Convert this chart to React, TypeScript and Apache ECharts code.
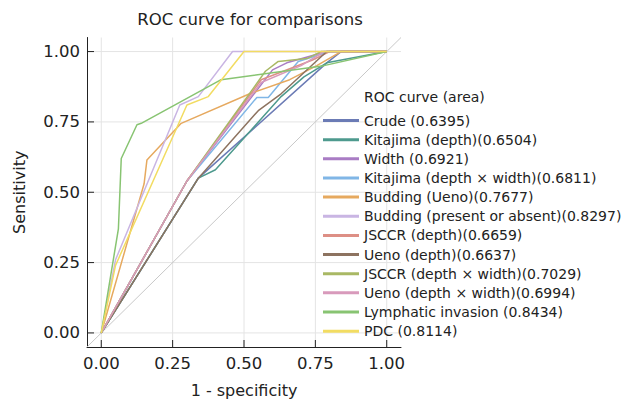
import React, { useEffect, useRef } from "react";
import * as echarts from "echarts";

const FONT = "'DejaVu Sans', Verdana, sans-serif";
const TEXT = "#222222";

const tickValues = [0, 0.25, 0.5, 0.75, 1];

const seriesNames = [
  "Crude (0.6395)",
  "Kitajima (depth)(0.6504)",
  "Width (0.6921)",
  "Kitajima (depth × width)(0.6811)",
  "Budding (Ueno)(0.7677)",
  "Budding (present or absent)(0.8297)",
  "JSCCR (depth)(0.6659)",
  "Ueno (depth)(0.6637)",
  "JSCCR (depth × width)(0.7029)",
  "Ueno (depth × width)(0.6994)",
  "Lymphatic invasion (0.8434)",
  "PDC (0.8114)",
];

const colors = [
  "#6b7bb5",
  "#4e9a8e",
  "#a97cc4",
  "#80b6e6",
  "#e6a95f",
  "#c9b5e3",
  "#dd8f85",
  "#8d7360",
  "#a9b864",
  "#d89abb",
  "#88c472",
  "#f2dc62",
];

// 1 - specificity (x) and sensitivity (y) for each curve
const crudeX = [0, 0.34, 0.79, 0.84, 1];
const crudeY = [0, 0.55, 0.96, 1, 1];
const kitajimaX = [0, 0.34, 0.4, 0.63, 0.71, 0.79, 1];
const kitajimaY = [0, 0.55, 0.58, 0.84, 0.91, 0.96, 1];
const widthX = [0, 0.3, 0.6, 0.65, 0.79, 1];
const widthY = [0, 0.54, 0.935, 0.96, 1, 1];
const kitajimaDWX = [0, 0.3, 0.545, 0.585, 0.69, 0.8, 1];
const kitajimaDWY = [0, 0.54, 0.837, 0.837, 0.965, 1, 1];
const buddingUenoX = [0, 0.15, 0.16, 0.28, 0.52, 0.66, 0.755, 0.84, 1];
const buddingUenoY = [0, 0.53, 0.615, 0.745, 0.85, 0.9, 0.95, 1, 1];
const buddingPAX = [0, 0.05, 0.275, 0.34, 0.46, 1];
const buddingPAY = [0, 0.26, 0.81, 0.84, 1, 1];
const jsccrDepthX = [0, 0.3, 0.56, 0.74, 0.8, 1];
const jsccrDepthY = [0, 0.54, 0.9, 0.97, 1, 1];
const uenoDepthX = [0, 0.34, 0.55, 0.63, 0.79, 1];
const uenoDepthY = [0, 0.55, 0.79, 0.85, 1, 1];
const jsccrDWX = [0, 0.3, 0.575, 0.62, 0.72, 0.77, 1];
const jsccrDWY = [0, 0.54, 0.93, 0.965, 0.975, 1, 1];
const uenoDWX = [0, 0.3, 0.56, 0.7, 0.78, 1];
const uenoDWY = [0, 0.54, 0.89, 0.95, 1, 1];
const lymphX = [0, 0.06, 0.07, 0.125, 0.14, 0.42, 0.78, 1];
const lymphY = [0, 0.37, 0.62, 0.74, 0.745, 0.9, 0.95, 1];
const pdcX = [0, 0.05, 0.3, 0.375, 0.5, 1];
const pdcY = [0, 0.24, 0.81, 0.84, 1, 1];

const diagonal = [-0.05, 1.05];
const unitRange = [0, 1];

const curves: [number[], number[]][] = [
  [crudeX, crudeY],
  [kitajimaX, kitajimaY],
  [widthX, widthY],
  [kitajimaDWX, kitajimaDWY],
  [buddingUenoX, buddingUenoY],
  [buddingPAX, buddingPAY],
  [jsccrDepthX, jsccrDepthY],
  [uenoDepthX, uenoDepthY],
  [jsccrDWX, jsccrDWY],
  [uenoDWX, uenoDWY],
  [lymphX, lymphY],
  [pdcX, pdcY],
];

const zip = (xs: number[], ys: number[]) => xs.map((x, i) => [x, ys[i]]);

// plot geometry: data range -0.05..1.05 on both axes
const G_LEFT = 87;
const G_TOP = 37.5;
const G_W = 314;
const G_H = 309.5;
const PAD = 0.05 / 1.1;
const AX_MIN = -0.05;
const AX_MAX = 1.05;

export default function App() {
  const ref = useRef<HTMLDivElement>(null);
  useEffect(() => {
    const chart = echarts.init(ref.current!, null, { renderer: "svg" });
    const hidden = (gridIndex: number) => ({
      type: "value",
      gridIndex,
      min: 0,
      max: 1,
      interval: 0.25,
      axisLine: { show: false },
      axisTick: { show: false },
      axisLabel: { show: false },
      splitLine: { show: false },
    });
    const labelAxis = (gridIndex: number, name: string, nameGap: number, margin: number) => ({
      type: "value",
      gridIndex,
      min: 0,
      max: 1,
      interval: 0.25,
      name,
      nameGap,
      nameLocation: "middle",
      nameTextStyle: { fontFamily: FONT, fontSize: 16, color: TEXT },
      axisLine: { show: false, onZero: false },
      axisTick: { show: false },
      axisLabel: {
        show: true,
        formatter: (v: number) => v.toFixed(2),
        fontFamily: FONT,
        fontSize: 16.5,
        color: TEXT,
        margin,
      },
      splitLine: { show: false },
    });
    const helper = (idx: number) => ({
      name: "_helper" + idx,
      type: "line",
      xAxisIndex: idx,
      yAxisIndex: idx,
      data: zip(unitRange, unitRange),
      symbol: "none",
      showSymbol: false,
      silent: true,
      lineStyle: { opacity: 0, width: 0 },
      itemStyle: { opacity: 0 },
      z: 0,
    });
    const gridAndTicks = {
      name: "_grid",
      type: "custom",
      xAxisIndex: 0,
      yAxisIndex: 0,
      silent: true,
      z: 0,
      data: zip(tickValues, tickValues),
      renderItem: (_params: any, api: any) => {
        const v = api.value(0);
        const bottom = api.coord([v, AX_MIN]);
        const top = api.coord([v, AX_MAX]);
        const left = api.coord([AX_MIN, v]);
        const right = api.coord([AX_MAX, v]);
        const gridStyle = { stroke: "#e4e4e4", lineWidth: 1 };
        const tickStyle = { stroke: TEXT, lineWidth: 1 };
        return {
          type: "group",
          children: [
            {
              type: "line",
              shape: { x1: bottom[0], y1: bottom[1], x2: top[0], y2: top[1] },
              style: gridStyle,
            },
            {
              type: "line",
              shape: { x1: left[0], y1: left[1], x2: right[0], y2: right[1] },
              style: gridStyle,
            },
            {
              type: "line",
              shape: { x1: bottom[0], y1: bottom[1], x2: bottom[0], y2: bottom[1] - 7 },
              style: tickStyle,
              z2: 100,
            },
            {
              type: "line",
              shape: { x1: left[0], y1: left[1], x2: left[0] + 7, y2: left[1] },
              style: tickStyle,
              z2: 100,
            },
          ],
        };
      },
    };
    const option: any = {
      animation: false,
      backgroundColor: "#ffffff",
      title: [
        {
          text: "ROC curve for comparisons",
          left: 250,
          top: 11,
          padding: 0,
          textAlign: "center",
          textStyle: { fontFamily: FONT, fontSize: 16.5, fontWeight: "normal", color: TEXT },
        },
        {
          text: "ROC curve (area)",
          left: 364,
          top: 90,
          padding: 0,
          textStyle: { fontFamily: FONT, fontSize: 14, fontWeight: "normal", color: TEXT },
        },
      ],
      grid: [
        { left: G_LEFT, top: G_TOP, width: G_W, height: G_H, containLabel: false },
        {
          left: G_LEFT + G_W * PAD,
          top: G_TOP,
          width: G_W * (1 - 2 * PAD),
          height: G_H,
          containLabel: false,
        },
        {
          left: G_LEFT,
          top: G_TOP + G_H * PAD,
          width: G_W,
          height: G_H * (1 - 2 * PAD),
          containLabel: false,
        },
      ],
      xAxis: [
        {
          type: "value",
          gridIndex: 0,
          min: AX_MIN,
          max: AX_MAX,
          axisLine: { show: true, onZero: false, lineStyle: { color: TEXT, width: 1 } },
          axisTick: { show: false },
          axisLabel: { show: false },
          splitLine: { show: false },
        },
        labelAxis(1, "1 - specificity", 36, 9),
        hidden(2),
      ],
      yAxis: [
        {
          type: "value",
          gridIndex: 0,
          min: AX_MIN,
          max: AX_MAX,
          axisLine: { show: true, onZero: false, lineStyle: { color: TEXT, width: 1 } },
          axisTick: { show: false },
          axisLabel: { show: false },
          splitLine: { show: false },
        },
        hidden(1),
        labelAxis(2, "Sensitivity", 60, 7),
      ],
      legend: {
        orient: "vertical",
        left: 323,
        top: 112.5,
        padding: 0,
        icon: "rect",
        itemWidth: 36,
        itemHeight: 3,
        itemGap: 3.15,
        data: seriesNames,
        textStyle: { fontFamily: FONT, fontSize: 14, color: TEXT, lineHeight: 16 },
      },
      series: [
        helper(1),
        helper(2),
        gridAndTicks,
        {
          name: "diagonal",
          type: "line",
          xAxisIndex: 0,
          yAxisIndex: 0,
          data: zip(diagonal, diagonal),
          showSymbol: false,
          symbol: "none",
          silent: true,
          lineStyle: { color: "#c8c8c8", width: 1 },
          z: 1,
        },
        ...curves.map(([xs, ys], i) => ({
          name: seriesNames[i],
          type: "line",
          xAxisIndex: 0,
          yAxisIndex: 0,
          data: zip(xs, ys),
          symbol: "none",
          showSymbol: false,
          color: colors[i],
          itemStyle: { color: colors[i] },
          lineStyle: { color: colors[i], width: 1.5 },
          z: 2 + i,
        })),
      ],
    };
    chart.setOption(option);
    return () => chart.dispose();
  }, []);
  return (
    <div
      ref={ref}
      style={{ position: "fixed", left: 0, top: 0, width: 625, height: 403 }}
    />
  );
}
